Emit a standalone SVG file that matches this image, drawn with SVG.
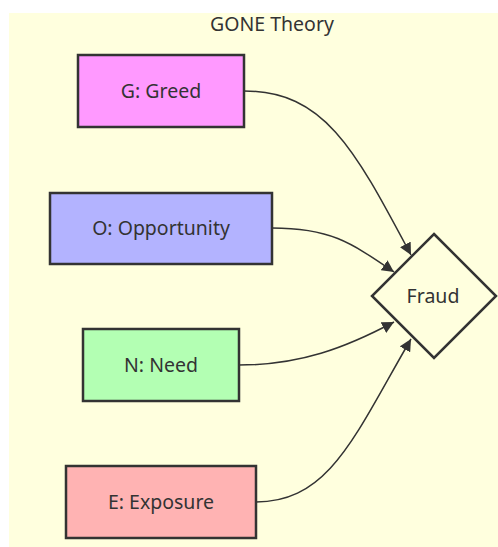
<svg xmlns="http://www.w3.org/2000/svg" width="498" height="547" viewBox="0 0 498 547">
  <style>
    text { font-family: "Noto Sans", "DejaVu Sans", sans-serif; font-size: 19.5px; fill: #333333; text-anchor: middle; }
    .box { stroke: #333333; stroke-width: 2.5; }
    .edge { fill: none; stroke: #333333; stroke-width: 1.5; }
  </style>
  <defs>
    <marker id="arrow" viewBox="0 0 10 10" refX="10" refY="5" markerWidth="12" markerHeight="12" markerUnits="userSpaceOnUse" orient="auto">
      <path d="M0,0 L10,5 L0,10 z" fill="#333333"/>
    </marker>
  </defs>

  <!-- cluster background -->
  <g id="cluster-gone">
    <rect x="9" y="13" width="489" height="534" fill="#ffffde"/>
    <text x="272" y="31">GONE Theory</text>
  </g>

  <!-- connectors -->
  <g id="edges">
    <path class="edge" d="M244,91 C325,91 355,150 411,255" marker-end="url(#arrow)"/>
    <path class="edge" d="M272,228 C330,228 350,242 394,272" marker-end="url(#arrow)"/>
    <path class="edge" d="M239,365 C300,365 345,348 394,322" marker-end="url(#arrow)"/>
    <path class="edge" d="M256,502 C330,502 355,435 411,339" marker-end="url(#arrow)"/>
  </g>

  <g id="node-G">
    <rect class="box" x="78" y="55" width="166" height="72" fill="#ff99ff"/>
    <text x="161" y="98">G: Greed</text>
  </g>
  <g id="node-O">
    <rect class="box" x="50" y="193" width="222" height="71" fill="#b3b3ff"/>
    <text x="161" y="235">O: Opportunity</text>
  </g>
  <g id="node-N">
    <rect class="box" x="83" y="329" width="156" height="72" fill="#b3ffb3"/>
    <text x="161" y="372">N: Need</text>
  </g>
  <g id="node-E">
    <rect class="box" x="66" y="466" width="190" height="72" fill="#ffb3b3"/>
    <text x="161" y="509">E: Exposure</text>
  </g>
  <g id="node-Fraud">
    <polygon class="box" points="434,234 496,296 434,358 372,296" fill="#ffffde"/>
    <text x="433" y="303">Fraud</text>
  </g>
</svg>
